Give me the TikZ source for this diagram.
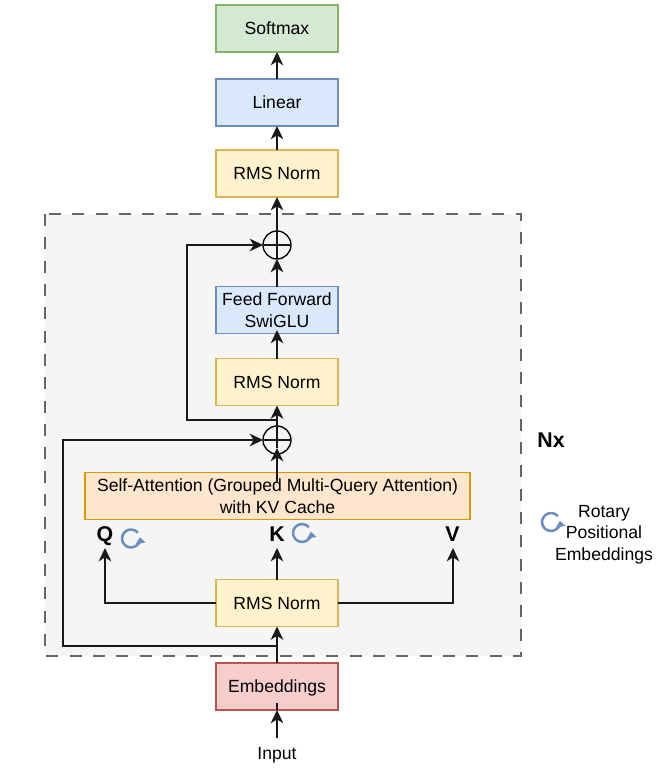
\documentclass[tikz,border=0pt]{standalone}
\usepackage{fontspec}
\setmainfont{Liberation Sans}
\usetikzlibrary{arrows.meta}
\definecolor{normfill}{HTML}{FFF2CC}
\definecolor{normline}{HTML}{D6B656}
\definecolor{bluefill}{HTML}{DAE8FC}
\definecolor{blueline}{HTML}{6C8EBF}
\definecolor{softfill}{HTML}{D5E8D4}
\definecolor{softline}{HTML}{82B366}
\definecolor{embfill}{HTML}{F8CECC}
\definecolor{embline}{HTML}{B85450}
\definecolor{attnfill}{HTML}{FFE6CC}
\definecolor{attnline}{HTML}{D79B00}
\tikzset{
    block/.style={draw, line width=0.8pt, outer sep=0pt, inner sep=0pt, align=center, minimum width=91.5pt, minimum height=35.25pt, font=\fontsize{13.2}{16.4}\selectfont},
    oneline/.style={text height=9.5pt, text depth=0pt},
    normblock/.style={block, oneline, fill=normfill, draw=normline},
    blueblock/.style={block, fill=bluefill, draw=blueline},
    flow/.style={-{Stealth[length=10pt,width=9.5pt,inset=3pt]}, line width=1.1pt, black!90},
    wire/.style={line width=1.1pt, black!90},
    addnode/.style={draw, circle, line width=1pt, minimum size=21pt, inner sep=0pt, outer sep=0pt},
    label text/.style={inner sep=0pt, align=center, font=\fontsize{13.2}{16}\selectfont},
    head text/.style={inner sep=0pt, font=\bfseries\fontsize{16}{18}\selectfont},
    rotary/.style={draw=blueline, line width=1.9pt, -{Triangle[length=4.5pt,width=7pt]}},
}
\begin{document}
\begin{tikzpicture}[x=0.75pt,y=-0.75pt]
\useasboundingbox (0,0) rectangle (661,768);
% repeated block
\draw[dashed, dash pattern=on 9pt off 8.5pt, draw=black!60, fill=black!4, line width=0.9pt] (45,214) rectangle (521,656);

\node[block, oneline, fill=softfill, draw=softline] (softmax) at (277,28.5) {Softmax};
\node[blueblock, oneline] (linear) at (277,102.5) {Linear};
\node[normblock] (norma) at (277,173.5) {RMS Norm};
\node[addnode] (plusa) at (277,245) {};
\node[blueblock] (forward) at (277,310) {Feed Forward\\SwiGLU};
\node[normblock] (normb) at (277,382) {RMS Norm};
\node[addnode] (plusb) at (277,440) {};
\node[block, fill=attnfill, draw=attnline, minimum width=288.75pt] (attn) at (277.5,496) {Self-Attention (Grouped Multi-Query Attention)\\with KV Cache};
\node[normblock] (normc) at (277,603) {RMS Norm};
\node[block, oneline, fill=embfill, draw=embline] (embed) at (277,686.5) {Embeddings};
\node[label text] (input) at (277,755.5) {Input};

\node[head text] (q) at (105,536) {Q};
\node[head text] (k) at (277,534.5) {K};
\node[head text] (v) at (452.5,534) {V};
\node[head text] (nx) at (551,440) {Nx};
\node[label text] (rotarytext) at (604,534.5) {Rotary\\Positional\\Embeddings};

% plus signs
\draw[wire] (plusa.west) -- (plusa.east);
\draw[wire] (plusb.west) -- (plusb.east);

% helper points
\coordinate (intoembed) at (277,703);
\coordinate (inputtop) at (277,738);
\coordinate (attnstub) at (277,482);
\coordinate (split) at (277,646);
\coordinate (skipa) at (63,646);
\coordinate (tap) at (277,420);
\coordinate (skipb) at (187,420);
\coordinate (kend) at (277,548);
\coordinate (qend) at (105,548);
\coordinate (vend) at (453,548);
\coordinate (plusatip) at (277,259);
\coordinate (plusbtip) at (277,448);
\coordinate (fwdtip) at (277,330);

\draw[flow] (inputtop) -- (embed.south);
\draw[wire] (embed.south) -- (intoembed);
\draw[flow] (embed.north) -- (normc.south);
\draw[flow] (normc.north) -- (kend);
\draw[flow] (normc.west) -| (qend);
\draw[flow] (normc.east) -| (vend);
\draw[flow] (attnstub) -- (plusbtip);
\draw[wire] (plusbtip) -- (plusb.north);
\draw[flow] (plusb.north) -- (normb.south);
\draw[flow] (normb.north) -- (fwdtip);
\draw[flow] (forward.north) -- (plusatip);
\draw[wire] (plusatip) -- (plusa.north);
\draw[flow] (plusa.north) -- (norma.south);
\draw[flow] (norma.north) -- (linear.south);
\draw[flow] (linear.north) -- (softmax.south);
\draw[flow] (split) -- (skipa) |- (plusb.west);
\draw[flow] (tap) -- (skipb) |- (plusa.west);

% rotary marks
\draw[rotary] (131,538.5) ++(-40:9) arc[start angle=-40, end angle=-368, radius=9];
\draw[rotary] (302,533) ++(-40:9) arc[start angle=-40, end angle=-368, radius=9];
\draw[rotary] (551,522) ++(-40:9) arc[start angle=-40, end angle=-368, radius=9];
\end{tikzpicture}
\end{document}
